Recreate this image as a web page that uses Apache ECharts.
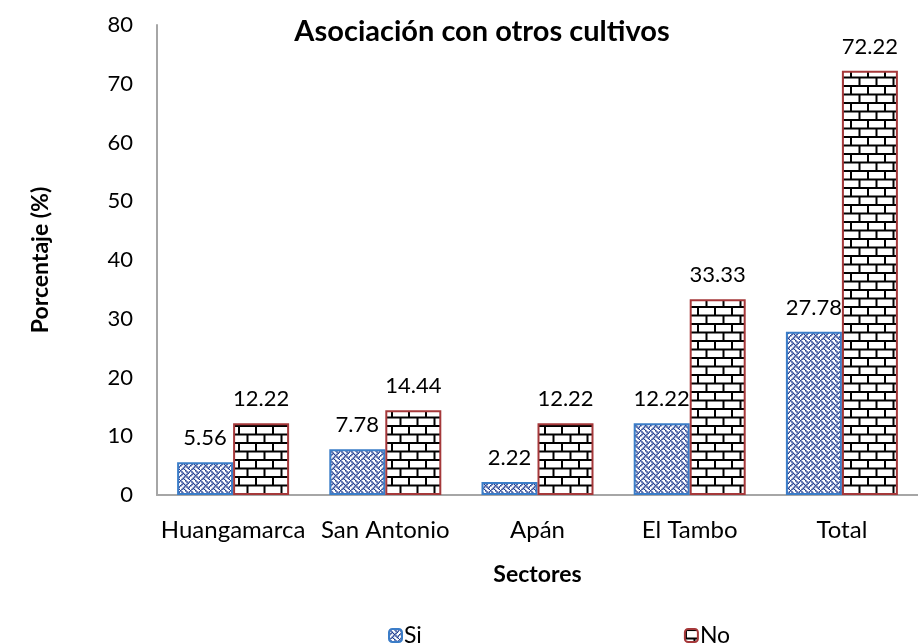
<!DOCTYPE html>
<html>
<head>
<meta charset="utf-8">
<script src="https://cdn.jsdelivr.net/npm/echarts@6/dist/echarts.min.js"></script>
<style>
html,body{margin:0;padding:0;background:#fff;}
#chart{width:918px;height:643px;}
</style>
</head>
<body>
<div id="chart"></div>
<script>
const categories = ['Huangamarca', 'San Antonio', 'Apán', 'El Tambo', 'Total'];
const siValues = [5.56, 7.78, 2.22, 12.22, 27.78];
const noValues = [12.22, 14.44, 12.22, 33.33, 72.22];
const yTicks = [0, 10, 20, 30, 40, 50, 60, 70, 80];

function weavePattern() {
  const s = 1.25;
  const c = document.createElement('canvas');
  c.width = 10; c.height = 10;
  const ctx = c.getContext('2d');
  ctx.fillStyle = '#ffffff';
  ctx.fillRect(0, 0, 10, 10);
  const rows = [
    '10001000',
    '01000101',
    '00100010',
    '01010100',
    '10001000',
    '00010101',
    '00100010',
    '01010001'
  ];
  ctx.fillStyle = '#1d3a8f';
  rows.forEach((r, y) => {
    for (let x = 0; x < 8; x++) if (r[x] === '1') ctx.fillRect(x * s, y * s, s + 0.3, s + 0.3);
  });
  return c;
}

function brickPattern() {
  const w = 17, h = 17;
  const c = document.createElement('canvas');
  c.width = w; c.height = h;
  const ctx = c.getContext('2d');
  ctx.fillStyle = '#ffffff';
  ctx.fillRect(0, 0, w, h);
  ctx.fillStyle = '#000000';
  ctx.fillRect(0, 0, w, 2);
  ctx.fillRect(0, 8.5, w, 2);
  ctx.fillRect(0, 0, 2, 9);
  ctx.fillRect(8.5, 9, 2, 8);
  return c;
}

const chart = echarts.init(document.getElementById('chart'), null, {renderer: 'canvas'});
const font = 'Lato, "Open Sans", sans-serif';

const option = {
  backgroundColor: '#ffffff',
  animation: false,
  title: {
    text: 'Asociación con otros cultivos',
    left: 477,
    textAlign: 'center',
    top: 12,
    textStyle: {fontFamily: font, fontSize: 29, fontWeight: 'bold', color: '#000'}
  },
  legend: {
    left: 383,
    top: 619,
    itemWidth: 13,
    itemHeight: 13,
    itemGap: 262,
    textStyle: {fontFamily: font, fontSize: 23, color: '#000', padding: [0, 0, 0, -3]},
    data: ['Si', 'No']
  },
  grid: {left: 157, top: 25, width: 777, height: 470},
  xAxis: {
    type: 'category',
    data: categories,
    name: 'Sectores',
    nameLocation: 'middle',
    nameGap: 68,
    nameTextStyle: {fontFamily: font, fontSize: 23, fontWeight: 'bold', color: '#000'},
    axisLine: {lineStyle: {color: '#a6a6a6', width: 2}},
    axisTick: {show: false},
    axisLabel: {interval: 0, fontFamily: font, fontSize: 24, color: '#000', margin: 23}
  },
  yAxis: {
    type: 'value',
    min: yTicks[0],
    max: yTicks[yTicks.length - 1],
    interval: 10,
    name: 'Porcentaje (%)',
    nameLocation: 'middle',
    nameRotate: 90,
    nameGap: 105,
    nameTextStyle: {fontFamily: font, fontSize: 23, fontWeight: 'bold', color: '#000'},
    axisLine: {show: true, lineStyle: {color: '#a6a6a6', width: 2}},
    axisTick: {show: false},
    splitLine: {show: false},
    axisLabel: {fontFamily: font, fontSize: 22, color: '#000', margin: 24}
  },
  series: [
    {
      name: 'Si',
      type: 'bar',
      data: siValues,
      barWidth: 56,
      barGap: '0%',
      itemStyle: {
        color: {image: weavePattern(), repeat: 'repeat'},
        borderColor: '#3b7dc8',
        borderWidth: 2
      },
      label: {show: true, position: 'top', distance: 13, fontFamily: font, fontSize: 22, color: '#000',
        formatter: p => p.value.toFixed(2)}
    },
    {
      name: 'No',
      type: 'bar',
      data: noValues,
      barWidth: 56,
      barGap: '0%',
      itemStyle: {
        color: {image: brickPattern(), repeat: 'repeat'},
        borderColor: '#a5383a',
        borderWidth: 2
      },
      label: {show: true, position: 'top', distance: 13, fontFamily: font, fontSize: 22, color: '#000',
        formatter: p => p.value.toFixed(2)}
    }
  ]
};
chart.setOption(option);
</script>
</body>
</html>
